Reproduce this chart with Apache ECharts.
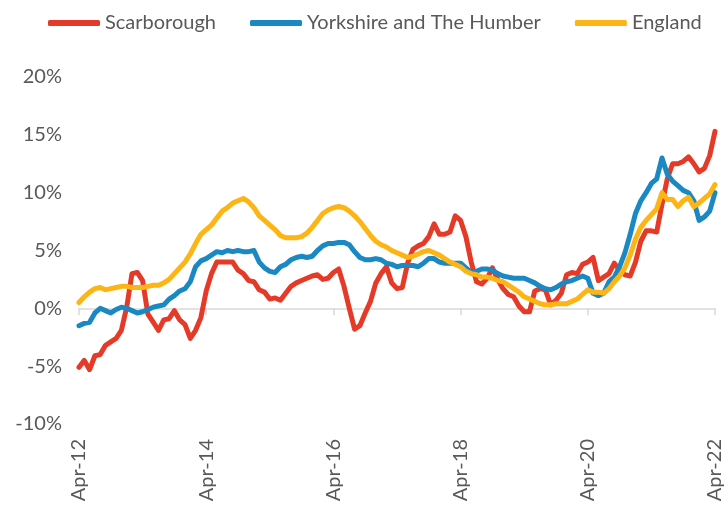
<!DOCTYPE html>
<html>
<head>
<meta charset="utf-8">
<script src="https://cdn.jsdelivr.net/npm/echarts@6/dist/echarts.min.js"></script>
<style>
  html, body { margin: 0; padding: 0; background: #fff; }
  #chart { width: 725px; height: 506px; }
</style>
</head>
<body>
<div id="chart"></div>
<script>
// monthly, Apr-12 .. Apr-22
var monthNames = ['Jan', 'Feb', 'Mar', 'Apr', 'May', 'Jun', 'Jul', 'Aug', 'Sep', 'Oct', 'Nov', 'Dec'];
var months = [];
for (var k = 0; k < 121; k++) {
  var m = (3 + k) % 12;
  var yy = 12 + Math.floor((3 + k) / 12);
  months.push(monthNames[m] + '-' + yy);
}

var scarborough = [
  -5.1, -4.5, -5.3, -4.1, -4.0, -3.2, -2.9, -2.6, -1.9, 0.1,
  3.0, 3.1, 2.4, -0.5, -1.2, -1.9, -1.0, -0.9, -0.2, -1.0,
  -1.4, -2.6, -1.9, -0.8, 1.5, 3.0, 4.0, 4.0, 4.0, 4.0,
  3.3, 3.0, 2.4, 2.3, 1.6, 1.4, 0.8, 0.9, 0.7, 1.3,
  1.9, 2.2, 2.4, 2.6, 2.8, 2.9, 2.5, 2.6, 3.1, 3.4,
  1.9, 0.0, -1.8, -1.5, -0.4, 0.6, 2.2, 3.0, 3.6, 2.2,
  1.7, 1.8, 3.9, 5.1, 5.4, 5.6, 6.2, 7.3, 6.4, 6.4,
  6.6, 8.0, 7.6, 6.2, 4.0, 2.3, 2.1, 2.6, 3.5, 2.5,
  1.7, 1.2, 1.0, 0.2, -0.3, -0.3, 1.5, 1.7, 1.6, 0.3,
  0.7, 1.3, 2.9, 3.1, 3.0, 3.8, 4.0, 4.4, 2.4, 2.7,
  3.0, 3.9, 3.3, 2.9, 2.8, 4.0, 5.8, 6.7, 6.7, 6.6,
  9.0, 11.2, 12.5, 12.5, 12.7, 13.1, 12.5, 11.8, 12.1, 13.2,
  15.3
];

var yorkshire = [
  -1.5, -1.3, -1.2, -0.4, 0.0, -0.2, -0.4, -0.1, 0.1, 0.0,
  -0.2, -0.4, -0.3, -0.1, 0.1, 0.2, 0.3, 0.8, 1.1, 1.5,
  1.7, 2.3, 3.6, 4.1, 4.3, 4.6, 4.9, 4.8, 5.0, 4.9,
  5.0, 4.9, 4.9, 5.0, 4.0, 3.5, 3.2, 3.1, 3.6, 3.8,
  4.2, 4.4, 4.5, 4.4, 4.5, 5.0, 5.4, 5.6, 5.6, 5.7,
  5.7, 5.5, 4.9, 4.4, 4.2, 4.2, 4.3, 4.2, 3.9, 3.8,
  3.6, 3.7, 3.7, 3.7, 3.6, 3.9, 4.3, 4.3, 4.0, 3.9,
  3.9, 3.9, 3.9, 3.5, 3.1, 3.2, 3.4, 3.4, 3.3, 3.0,
  2.8, 2.7, 2.6, 2.6, 2.6, 2.4, 2.2, 1.9, 1.7, 1.6,
  1.8, 2.1, 2.3, 2.4, 2.6, 2.8, 2.6, 1.3, 1.1, 1.3,
  2.3, 2.7, 3.6, 4.8, 6.4, 8.2, 9.3, 10.0, 10.8, 11.2,
  13.0, 11.6, 11.0, 10.6, 10.2, 10.0, 9.3, 7.6, 7.9, 8.4,
  10.0
];

var england = [
  0.5, 1.0, 1.4, 1.7, 1.8, 1.6, 1.7, 1.8, 1.9, 1.9,
  1.8, 1.8, 1.8, 1.9, 2.0, 2.0, 2.2, 2.5, 3.0, 3.5,
  4.0, 4.7, 5.6, 6.4, 6.8, 7.2, 7.8, 8.4, 8.7, 9.1,
  9.3, 9.5, 9.2, 8.7, 8.0, 7.6, 7.2, 6.8, 6.3, 6.1,
  6.1, 6.1, 6.2, 6.5, 7.0, 7.6, 8.2, 8.5, 8.7, 8.8,
  8.7, 8.4, 8.0, 7.5, 6.9, 6.3, 5.8, 5.5, 5.3, 5.0,
  4.8, 4.6, 4.4, 4.5, 4.7, 4.9, 5.0, 4.8, 4.6, 4.3,
  4.0, 3.8, 3.6, 3.2, 3.0, 2.9, 2.7, 2.7, 2.6, 2.4,
  2.3, 2.0, 1.7, 1.4, 1.0, 0.8, 0.6, 0.4, 0.3, 0.3,
  0.4, 0.4, 0.4, 0.6, 0.8, 1.2, 1.6, 1.4, 1.4, 1.3,
  1.7, 2.3, 2.8, 3.5, 4.6, 6.0, 7.0, 7.6, 8.1, 8.6,
  10.0, 9.4, 9.4, 8.8, 9.3, 9.6, 8.8, 9.1, 9.5, 9.9,
  10.7
];

var textColor = '#595959';
var font = 'Lato';

function lineSeries(name, data, color) {
  return {
    name: name,
    type: 'line',
    data: data,
    xAxisIndex: 0,
    showSymbol: false,
    symbol: 'none',
    color: color,
    lineStyle: { width: 5, color: color, cap: 'round', join: 'round' }
  };
}

var chart = echarts.init(document.getElementById('chart'));
chart.setOption({
  animation: false,
  grid: { left: 79, right: 6, top: 77, bottom: 82 },
  legend: {
    left: 43,
    top: 8,
    icon: 'roundRect',
    itemWidth: 52,
    itemHeight: 6,
    itemGap: 34,
    textStyle: { color: textColor, fontSize: 20, fontFamily: font },
    data: ['Scarborough', 'Yorkshire and The Humber', 'England']
  },
  xAxis: [
    {
      type: 'category',
      data: months,
      boundaryGap: false,
      axisLine: { onZero: true, lineStyle: { color: '#d9d9d9', width: 1.5 } },
      axisTick: { show: true, interval: 23, length: 7, lineStyle: { color: '#d9d9d9', width: 1.5 } },
      axisLabel: { show: false },
      splitLine: { show: false }
    },
    {
      type: 'category',
      data: months,
      boundaryGap: false,
      position: 'bottom',
      axisLine: { show: false, onZero: false },
      axisTick: { show: false },
      axisLabel: {
        interval: 23,
        rotate: 90,
        margin: 15,
        color: textColor,
        fontSize: 20,
        fontFamily: font,
        showMaxLabel: true
      },
      splitLine: { show: false }
    }
  ],
  yAxis: {
    type: 'value',
    min: -10,
    max: 20,
    interval: 5,
    axisLine: { show: false },
    axisTick: { show: false },
    splitLine: { show: false },
    axisLabel: {
      formatter: '{value}%',
      margin: 17,
      color: textColor,
      fontSize: 20,
      fontFamily: font
    }
  },
  series: [
    lineSeries('Scarborough', scarborough, '#E53A28'),
    lineSeries('Yorkshire and The Humber', yorkshire, '#1A88C2'),
    lineSeries('England', england, '#FDB515')
  ]
});
</script>
</body>
</html>
